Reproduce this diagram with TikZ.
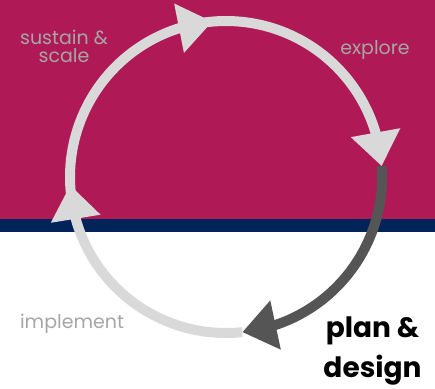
\documentclass[tikz,border=0pt]{standalone}
\usepackage{fontspec}
\setmainfont{Poppins}
\usetikzlibrary{arrows.meta,bending}
\definecolor{magentabg}{HTML}{AF1A56}
\definecolor{navyband}{HTML}{00245A}
\definecolor{lightarc}{HTML}{D9D9D9}
\definecolor{darkarc}{HTML}{555555}
\definecolor{labelgray}{HTML}{A6A6A6}
\begin{document}
\begin{tikzpicture}[x=1pt,y=1pt,
  cyc/.style={line width=10pt, -{Triangle[length=34pt,width=48pt,flex]}},
  lbl/.style={inner sep=0pt, text=labelgray, font=\fontsize{19}{18}\selectfont, align=center, anchor=base},
  bold/.style={inner sep=0pt, text=black, font=\fontsize{28}{40}\selectfont\bfseries, align=center, anchor=base}
]
\useasboundingbox (0,0) rectangle (435,388);
\fill[magentabg] (0,169) rectangle (435,388);
\fill[navyband] (0,156) rectangle (435,169);

\coordinate (c) at (226,211);
\path (c) ++(187:156) coordinate (pL);
\path (c) ++(99:156) coordinate (pT);
\path (c) ++(4:156) coordinate (pR);
\path (c) ++(-84:156) coordinate (pB);

\draw[cyc,lightarc] (pB) arc[start angle=-84,end angle=-177,radius=156];
\draw[cyc,lightarc] (pL) arc[start angle=187,end angle=95,radius=156];
\draw[cyc,lightarc] (pT) arc[start angle=99,end angle=4,radius=156];
\draw[cyc,darkarc] (pR) arc[start angle=4,end angle=-84,radius=156];

\node[lbl] (sustain) at (64,325) {sustain \&\\scale};
\node[lbl] (explore) at (375,333) {explore};
\node[lbl] (implement) at (72,60) {implement};
\node[bold] (plan) at (372.5,11) {plan \&\\design};
\end{tikzpicture}
\end{document}
